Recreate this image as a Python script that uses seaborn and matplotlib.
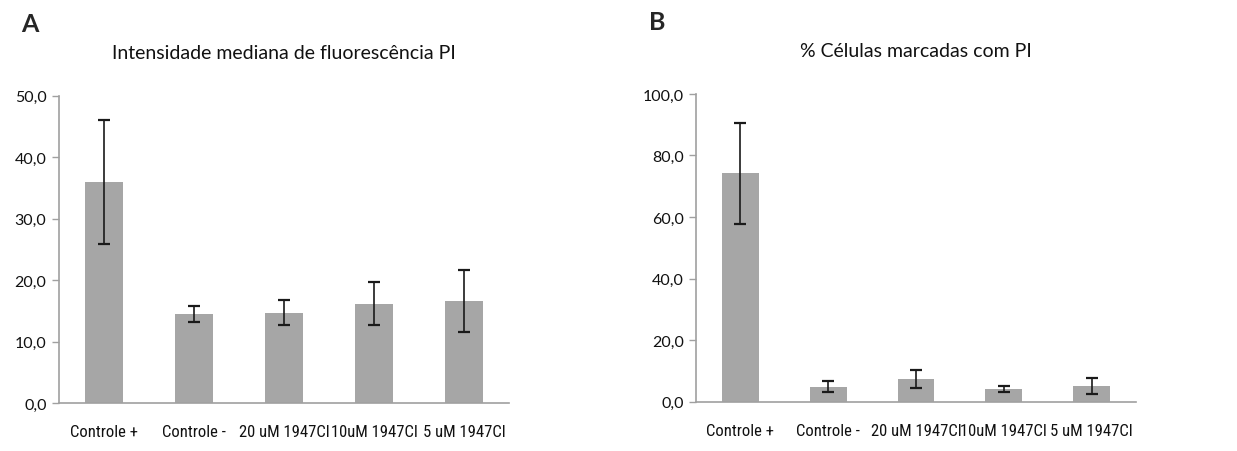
import numpy as np
import pandas as pd
import matplotlib
matplotlib.use('Agg')
import matplotlib.pyplot as plt
from matplotlib.ticker import FixedLocator, FuncFormatter
from matplotlib import font_manager
import seaborn as sns

categorias = ['Controle +', 'Controle -', '20 uM 1947Cl', '10uM 1947Cl', '5 uM 1947Cl']

# A - intensidade mediana de fluorescencia
mfi_media = [36.0, 14.5, 14.7, 16.2, 16.6]
mfi_erro = [10.1, 1.3, 2.0, 3.5, 5.0]

# B - % celulas marcadas
pct_media = [74.2, 4.9, 7.4, 4.1, 5.2]
pct_erro = [16.4, 1.7, 2.9, 1.0, 2.6]

sns.set_style('white')
plt.rcParams['font.family'] = ['Lato', 'DejaVu Sans']

# fonte estreita tipo Calibri, se houver
nomes = set(f.name for f in font_manager.fontManager.ttflist)
estreita, tam_x = 'Lato', 9.7
for n in ['Liberation Sans Narrow', 'Roboto Condensed', 'Open Sans Condensed']:
    if n in nomes:
        estreita, tam_x = n, 12
        break

cinza_barra = '#a6a6a6'
cinza_eixo = '#a0a0a0'


def painel(ax, media, erro, titulo, ymax, passo):
    df = pd.DataFrame({'cat': categorias, 'val': media})
    sns.barplot(x='cat', y='val', data=df, ax=ax, color=cinza_barra,
                width=0.42, errorbar=None, saturation=1, edgecolor='none')
    ax.errorbar(np.arange(len(categorias)), media, yerr=erro, fmt='none',
                ecolor='#1a1a1a', elinewidth=1.2, capsize=4, capthick=1.6)
    ax.set_xlim(-0.5, len(categorias) - 0.5)
    ax.set_ylim(0, ymax)
    ax.set_yticks(np.arange(0, ymax + passo / 2, passo))
    ax.yaxis.set_major_formatter(FuncFormatter(lambda v, p: ('%.1f' % v).replace('.', ',')))
    ax.set_xlabel('')
    ax.set_ylabel('')
    ax.set_title(titulo, fontsize=14, pad=27, color='#111111')
    for s in ['top', 'right']:
        ax.spines[s].set_visible(False)
    for s in ['left', 'bottom']:
        ax.spines[s].set_color(cinza_eixo)
        ax.spines[s].set_linewidth(1.2)
    ax.set_xticks(np.arange(len(categorias)))
    ax.set_xticklabels(categorias, family=[estreita, 'DejaVu Sans'], fontsize=tam_x, color='#111111')
    ax.tick_params(axis='x', which='major', length=0, pad=15)
    ax.xaxis.set_minor_locator(FixedLocator(np.arange(-0.5, len(categorias), 1.0)))
    ax.tick_params(axis='x', which='minor', length=5, color=cinza_eixo, width=1, direction='out')
    ax.tick_params(axis='y', length=5, color=cinza_eixo, width=1, direction='out',
                   left=True, labelsize=11.5, labelcolor='#111111', pad=4)


fig = plt.figure(figsize=(12.37, 4.52), dpi=100)
ax1 = fig.add_axes([0.0477, 0.106, 0.3638, 0.680])
ax2 = fig.add_axes([0.563, 0.109, 0.355, 0.681])

painel(ax1, mfi_media, mfi_erro, 'Intensidade mediana de fluorescência PI', 50, 10)
painel(ax2, pct_media, pct_erro, '% Células marcadas com PI', 100, 20)

fig.text(30 / 1237, 1 - 25 / 452, 'A', fontsize=18, fontweight='bold', ha='center', va='center')
fig.text(657 / 1237, 1 - 23 / 452, 'B', fontsize=18, fontweight='bold', ha='center', va='center')

fig.savefig('out.png', dpi=100, facecolor='white')
